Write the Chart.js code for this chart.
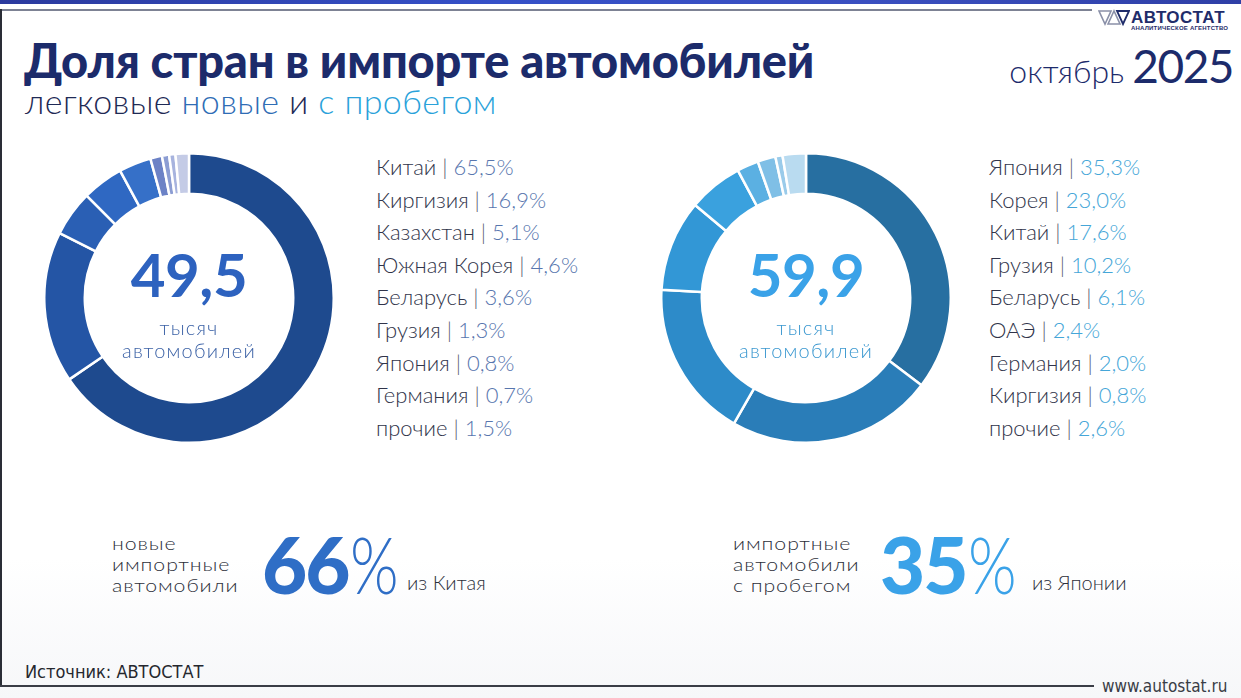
<!DOCTYPE html>
<html lang="ru">
<head>
<meta charset="utf-8">
<title>Доля стран в импорте автомобилей</title>
<script src="https://cdn.jsdelivr.net/npm/chart.js@4/dist/chart.umd.min.js"></script>
<style>
  html, body { margin: 0; padding: 0; background: #fff; }
  #page {
    position: relative; width: 1241px; height: 698px; overflow: hidden;
    font-family: Lato, "Noto Sans", sans-serif; color: #2b2f40;
    background: linear-gradient(#ffffff 0%, #ffffff 80%, #f6f7f9 100%);
  }
  .abs { position: absolute; white-space: nowrap; }
  #topStrip { left: 0; top: 0; width: 1241px; height: 4px; background: linear-gradient(90deg, #2b3a9e, #3550c8 40%, #3a4fc0 70%, #2f3fa6); }
  #topLine { left: 0; top: 9px; width: 1092px; height: 2px; background: #7d8294; }
  #leftLine { left: 0; top: 9px; width: 2px; height: 678px; background: #2a2d36; }
  #bottomLine { left: 0; top: 685px; width: 1094px; height: 2px; background: #3a3d46; }
  #head { left: 24px; top: 36px; font-size: 0; line-height: 0; }
  #head .t { font-size: 47px; line-height: 49px; font-weight: 900; color: #1c2b6b; letter-spacing: -0.2px; }
  #head .s { font-size: 34px; line-height: 32px; font-weight: 300; color: #1f2a55; letter-spacing: 0.4px; margin-left: 1px; }
  #head .n { color: #2f6db5; }
  #head .u { color: #2aa2da; }
  #date { right: 8px; top: 38px; color: #1c2b6b; }
  #date .m { font-size: 32px; font-weight: 300; }
  #date .y { font-size: 46px; font-weight: 400; letter-spacing: -1.5px; margin-left: 4px; }
  #logo { left: 1098px; top: 9px; }
  #logoText { left: 1131px; top: 8px; font-size: 17px; font-weight: 900; color: #1f2c6a; letter-spacing: 0.5px; font-family: "Liberation Sans", Arial, sans-serif; }
  #logoSub { left: 1131px; top: 25px; font-size: 6px; font-weight: 700; color: #1f2c6a; letter-spacing: 0.2px; font-family: "Liberation Sans", Arial, sans-serif; }
  .chartBox { position: absolute; width: 292px; height: 292px; }
  #boxNew { left: 43px; top: 152px; }
  #boxUsed { left: 660px; top: 152px; }
  .big { position: absolute; width: 220px; text-align: center; font-size: 60px; font-weight: 700; letter-spacing: -0.5px; top: 238px; }
  .small { position: absolute; width: 220px; text-align: center; font-size: 20px; font-weight: 300; line-height: 23px; letter-spacing: 1.2px; top: 316px; }
  .legend { position: absolute; font-size: 22px; line-height: 32.6px; color: #30344a; font-weight: 300; }
  .legend .sep { color: #55596b; font-weight: 300; }
  #legNew .pct { color: #5876ae; font-weight: 300; }
  #legUsed .pct { color: #45a6d8; font-weight: 300; }
  .note { position: absolute; font-size: 18.5px; line-height: 21px; font-weight: 300; color: #2c2f3a; letter-spacing: 0.8px; transform: scaleX(1.15); transform-origin: left top; }
  .bigPct { position: absolute; font-size: 78px; line-height: 78px; }
  .bigPct b { font-weight: 900; letter-spacing: -2px; }
  .bigPct span { font-weight: 300; display: inline-block; transform: scaleX(0.8); transform-origin: left center; margin-left: 2px; }
  .from { position: absolute; font-size: 20px; color: #2c2f3a; font-weight: 300; }
  #source { left: 25px; top: 661px; font-size: 18px; color: #25272e; font-family: "Liberation Sans Narrow", "DejaVu Sans Condensed", sans-serif; }
  #site { left: 1102px; top: 676px; font-size: 17px; color: #3a3d46; font-family: "Liberation Sans Narrow", "DejaVu Sans Condensed", sans-serif; }
</style>
</head>
<body>
<div id="page">
  <div class="abs" id="topStrip"></div>
  <div class="abs" id="topLine"></div>
  <div class="abs" id="leftLine"></div>
  <div class="abs" id="bottomLine"></div>

  <svg class="abs" id="logo" width="32" height="18" viewBox="0 0 32 18">
    <polygon points="1,2 13,2 7,15" fill="none" stroke="#8a90a8" stroke-width="1.6"/>
    <polygon points="10,15 16,2 22,15" fill="none" stroke="#8a90a8" stroke-width="1.6"/>
    <polygon points="19,2 31,2 25,15" fill="none" stroke="#1f2c6a" stroke-width="1.8"/>
  </svg>
  <div class="abs" id="logoText">АВТОСТАТ</div>
  <div class="abs" id="logoSub">АНАЛИТИЧЕСКОЕ АГЕНТСТВО</div>

  <div class="abs" id="head"><span class="t">Доля стран в импорте автомобилей</span><br><span class="s">легковые <span class="n">новые</span> и <span class="u">с пробегом</span></span></div>
  <div class="abs" id="date"><span class="m">октябрь</span> <span class="y">2025</span></div>

  <div class="chartBox" id="boxNew"><canvas id="chartNew" width="292" height="292"></canvas></div>
  <div class="chartBox" id="boxUsed"><canvas id="chartUsed" width="292" height="292"></canvas></div>

  <div class="big" id="totalNew" style="left:79px; color:#2d62bf;"></div>
  <div class="small" style="left:79px; color:#3c62a6;">тысяч<br>автомобилей</div>
  <div class="big" id="totalUsed" style="left:696px; color:#3aa2e8;"></div>
  <div class="small" style="left:696px; color:#3b98d0;">тысяч<br>автомобилей</div>

  <div class="legend" id="legNew" style="left:376px; top:151px;"></div>
  <div class="legend" id="legUsed" style="left:989px; top:151px;"></div>

  <div class="note" style="left:112px; top:533px;">новые<br>импортные<br>автомобили</div>
  <div class="bigPct" style="left:262px; top:525px; color:#2f6ec6;"><b id="topNew"></b><span>%</span></div>
  <div class="from" style="left:407px; top:570px;">из Китая</div>

  <div class="note" style="left:733px; top:533px;">импортные<br>автомобили<br>с пробегом</div>
  <div class="bigPct" style="left:880px; top:525px; color:#3aa2e8;"><b id="topUsed"></b><span>%</span></div>
  <div class="from" style="left:1032px; top:570px;">из Японии</div>

  <div class="abs" id="source">Источник: АВТОСТАТ</div>
  <div class="abs" id="site">www.autostat.ru</div>
</div>

<script>
// новые легковые, октябрь 2025
const newLabels = ['Китай', 'Киргизия', 'Казахстан', 'Южная Корея', 'Беларусь', 'Грузия', 'Япония', 'Германия', 'прочие'];
const newShares = [65.5, 16.9, 5.1, 4.6, 3.6, 1.3, 0.8, 0.7, 1.5];
const newTotal = 49.5;

// легковые с пробегом
const usedLabels = ['Япония', 'Корея', 'Китай', 'Грузия', 'Беларусь', 'ОАЭ', 'Германия', 'Киргизия', 'прочие'];
const usedShares = [35.3, 23.0, 17.6, 10.2, 6.1, 2.4, 2.0, 0.8, 2.6];
const usedTotal = 59.9;

// цвета сегментов
const newColors = ['#1e4a8e', '#2455a5', '#2a5fb4', '#2f68c2', '#3670c8', '#6c82c6', '#8c9dd3', '#a7b3de', '#c4cbe6'];
const usedColors = ['#276fa1', '#2a7db8', '#2d8bc9', '#3297d6', '#3aa1de', '#5bb0e2', '#7fbfe6', '#9acbea', '#b9dbf0'];

function fmt(v) {
    return v.toFixed(1).replace('.', ',');
}

function buildLegend(el, labels, shares) {
    el.innerHTML = labels.map((l, i) =>
        `<div>${l} <span class="sep">|</span> <span class="pct">${fmt(shares[i])}%</span></div>`
    ).join('');
}

function makeDonut(canvasId, labels, shares, colors) {
    const ctx = document.getElementById(canvasId).getContext('2d');
    return new Chart(ctx, {
        type: 'doughnut',
        data: {
            labels: labels,
            datasets: [{
                data: shares,
                backgroundColor: colors,
                borderColor: '#ffffff',
                borderWidth: 2.5,
                hoverOffset: 0
            }]
        },
        options: {
            responsive: false,
            maintainAspectRatio: false,
            animation: false,
            cutout: '72%',
            layout: { padding: 0 },
            plugins: {
                legend: { display: false },
                tooltip: { enabled: false }
            }
        }
    });
}

document.getElementById('totalNew').textContent = fmt(newTotal);
document.getElementById('totalUsed').textContent = fmt(usedTotal);
document.getElementById('topNew').textContent = Math.round(newShares[0]);
document.getElementById('topUsed').textContent = Math.round(usedShares[0]);

buildLegend(document.getElementById('legNew'), newLabels, newShares);
buildLegend(document.getElementById('legUsed'), usedLabels, usedShares);

makeDonut('chartNew', newLabels, newShares, newColors);
makeDonut('chartUsed', usedLabels, usedShares, usedColors);
</script>
</body>
</html>
